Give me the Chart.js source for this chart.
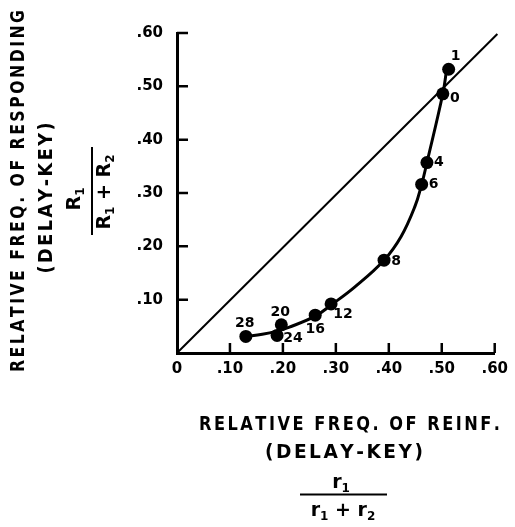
<!DOCTYPE html>
<html>
<head>
<meta charset="utf-8">
<script src="https://cdn.jsdelivr.net/npm/chart.js@4.4.1/dist/chart.umd.min.js"></script>
<style>
  html, body { margin: 0; padding: 0; background: #fff; }
  #wrap { width: 515px; height: 527px; }
</style>
</head>
<body>
<div id="wrap"><canvas id="chart" width="515" height="527"></canvas></div>
<script>
// session labels and the two relative frequencies for each point
const sessions  = ['1', '0', '4', '6', '8', '12', '16', '20', '24', '28'];
const reinfFreq = [0.513, 0.502, 0.472, 0.462, 0.391, 0.291, 0.261, 0.197, 0.189, 0.130];
const respFreq  = [0.532, 0.486, 0.357, 0.316, 0.174, 0.092, 0.071, 0.053, 0.033, 0.031];

// hand fitted curve
const curveX = [0.130, 0.161, 0.189, 0.211, 0.261, 0.291, 0.336, 0.391, 0.423, 0.449, 0.462, 0.472, 0.502, 0.509];
const curveY = [0.031, 0.035, 0.041, 0.048, 0.069, 0.090, 0.124, 0.174, 0.218, 0.274, 0.316, 0.357, 0.486, 0.530];

// matching line
const diagX = [0, 0.605];
const diagY = [0, 0.598];

const xTicks = [0, 0.1, 0.2, 0.3, 0.4, 0.5, 0.6];
const xTickLabels = ['0', '.10', '.20', '.30', '.40', '.50', '.60'];
const yTicks = [0.1, 0.2, 0.3, 0.4, 0.5, 0.6];
const yTickLabels = ['.10', '.20', '.30', '.40', '.50', '.60'];

const FONT = '"DejaVu Sans", sans-serif';

// label offsets in px from each marker (style only)
const labelOffsets = [[7, -13], [12, 5], [12, 0], [12, 0], [12, 1], [12, 10], [0, 14], [-1, -12], [16, 3], [-1, -13]];

function pts(xs, ys) {
  return xs.map((x, i) => ({ x: x, y: ys[i] }));
}

// draw text char by char so it spans a given width
function spaced(ctx, text, width, size) {
  ctx.font = 'bold ' + size + 'px ' + FONT;
  const chars = [...text];
  const ws = chars.map(c => ctx.measureText(c).width);
  const sum = ws.reduce((a, b) => a + b, 0);
  const minGap = 2.5;
  let gap = (width - sum) / (chars.length - 1);
  let sx = 1;
  if (gap < minGap) { gap = minGap; sx = (width - gap * (chars.length - 1)) / sum; }
  ctx.textAlign = 'left';
  ctx.textBaseline = 'middle';
  let x = -width / 2;
  chars.forEach((c, i) => {
    ctx.save();
    ctx.translate(x, 0);
    ctx.scale(sx, 1);
    ctx.fillText(c, 0, 0);
    ctx.restore();
    x += ws[i] * sx + gap;
  });
}

// text with subscripts: parts = [[text, isSub], ...]
function rich(ctx, parts, size) {
  const sub = Math.round(size * 0.62);
  const widths = parts.map(p => {
    ctx.font = 'bold ' + (p[1] ? sub : size) + 'px ' + FONT;
    return ctx.measureText(p[0]).width;
  });
  const total = widths.reduce((a, b) => a + b, 0);
  ctx.textAlign = 'left';
  ctx.textBaseline = 'middle';
  let x = -total / 2;
  parts.forEach((p, i) => {
    ctx.font = 'bold ' + (p[1] ? sub : size) + 'px ' + FONT;
    ctx.fillText(p[0], x, p[1] ? size * 0.3 : 0);
    x += widths[i];
  });
}

const annotate = {
  id: 'annotate',
  beforeDatasetsDraw(chart) {
    const ctx = chart.ctx;
    const xs = chart.scales.x, ys = chart.scales.y;
    const a = chart.chartArea;
    ctx.save();
    ctx.strokeStyle = '#000';
    ctx.lineWidth = 2.5;
    ctx.beginPath();
    yTicks.forEach(v => {
      const py = ys.getPixelForValue(v);
      ctx.moveTo(a.left, py);
      ctx.lineTo(a.left + 11, py);
    });
    xTicks.forEach(v => {
      if (v === 0) return;
      const px = xs.getPixelForValue(v);
      ctx.moveTo(px, a.bottom);
      ctx.lineTo(px, a.bottom - 10);
    });
    ctx.stroke();
    ctx.restore();
  },
  afterDraw(chart) {
    const ctx = chart.ctx;
    ctx.save();
    ctx.fillStyle = '#000';
    ctx.strokeStyle = '#000';

    // point labels
    const meta = chart.getDatasetMeta(2);
    ctx.font = 'bold 14px ' + FONT;
    ctx.textAlign = 'center';
    ctx.textBaseline = 'middle';
    meta.data.forEach((el, i) => {
      ctx.fillText(sessions[i], el.x + labelOffsets[i][0], el.y + labelOffsets[i][1]);
    });

    // x axis title
    ctx.save(); ctx.translate(349.5, 425); spaced(ctx, 'RELATIVE FREQ. OF REINF.', 301, 19); ctx.restore();
    ctx.save(); ctx.translate(344, 453); spaced(ctx, '(DELAY-KEY)', 158, 19); ctx.restore();
    ctx.save(); ctx.translate(341, 483); rich(ctx, [['r', 0], ['1', 1]], 19); ctx.restore();
    ctx.save(); ctx.translate(343, 511); rich(ctx, [['r', 0], ['1', 1], [' + ', 0], ['r', 0], ['2', 1]], 19); ctx.restore();
    ctx.lineWidth = 2;
    ctx.beginPath(); ctx.moveTo(300, 494.5); ctx.lineTo(387, 494.5); ctx.stroke();

    // y axis title (rotated)
    ctx.save(); ctx.translate(19, 191); ctx.rotate(-Math.PI / 2); spaced(ctx, 'RELATIVE FREQ. OF RESPONDING', 362, 19); ctx.restore();
    ctx.save(); ctx.translate(47.5, 198); ctx.rotate(-Math.PI / 2); spaced(ctx, '(DELAY-KEY)', 151, 19); ctx.restore();
    ctx.save(); ctx.translate(75, 199); ctx.rotate(-Math.PI / 2); rich(ctx, [['R', 0], ['1', 1]], 19); ctx.restore();
    ctx.save(); ctx.translate(105, 192); ctx.rotate(-Math.PI / 2); rich(ctx, [['R', 0], ['1', 1], [' + ', 0], ['R', 0], ['2', 1]], 19); ctx.restore();
    ctx.beginPath(); ctx.moveTo(92, 147); ctx.lineTo(92, 235); ctx.stroke();

    ctx.restore();
  }
};

const ctx = document.getElementById('chart');
const myChart = new Chart(ctx, {
  type: 'scatter',
  data: {
    datasets: [{
      data: pts(diagX, diagY),
      showLine: true,
      borderColor: '#000',
      borderWidth: 2,
      pointRadius: 0,
      clip: false
    }, {
      data: pts(curveX, curveY),
      showLine: true,
      borderColor: '#000',
      borderWidth: 3,
      tension: 0.4,
      pointRadius: 0
    }, {
      data: pts(reinfFreq, respFreq),
      showLine: false,
      pointRadius: 6.5,
      pointBackgroundColor: '#000',
      pointBorderColor: '#000',
      pointBorderWidth: 0
    }]
  },
  options: {
    responsive: false,
    animation: false,
    layout: { padding: { top: 33, right: 18, bottom: 0, left: 0 } },
    plugins: { legend: { display: false }, tooltip: { enabled: false } },
    scales: {
      x: {
        type: 'linear', min: 0, max: 0.6,
        afterBuildTicks: s => { s.ticks = xTicks.map(v => ({ value: v })); },
        afterFit: s => { s.height = 174; },
        grid: { display: false, drawTicks: false },
        border: { display: true, color: '#000', width: 3 },
        ticks: {
          padding: 7, color: '#000', maxRotation: 0,
          font: { family: FONT, size: 15, weight: 'bold' },
          callback: (v, i) => xTickLabels[i]
        }
      },
      y: {
        type: 'linear', min: 0, max: 0.6,
        afterBuildTicks: s => { s.ticks = yTicks.map(v => ({ value: v })); },
        afterFit: s => { s.width = 177; },
        grid: { display: false, drawTicks: false },
        border: { display: true, color: '#000', width: 3 },
        ticks: {
          padding: 14, color: '#000',
          font: { family: FONT, size: 15, weight: 'bold' },
          callback: (v, i) => yTickLabels[i]
        }
      }
    }
  },
  plugins: [annotate]
});
</script>
</body>
</html>
